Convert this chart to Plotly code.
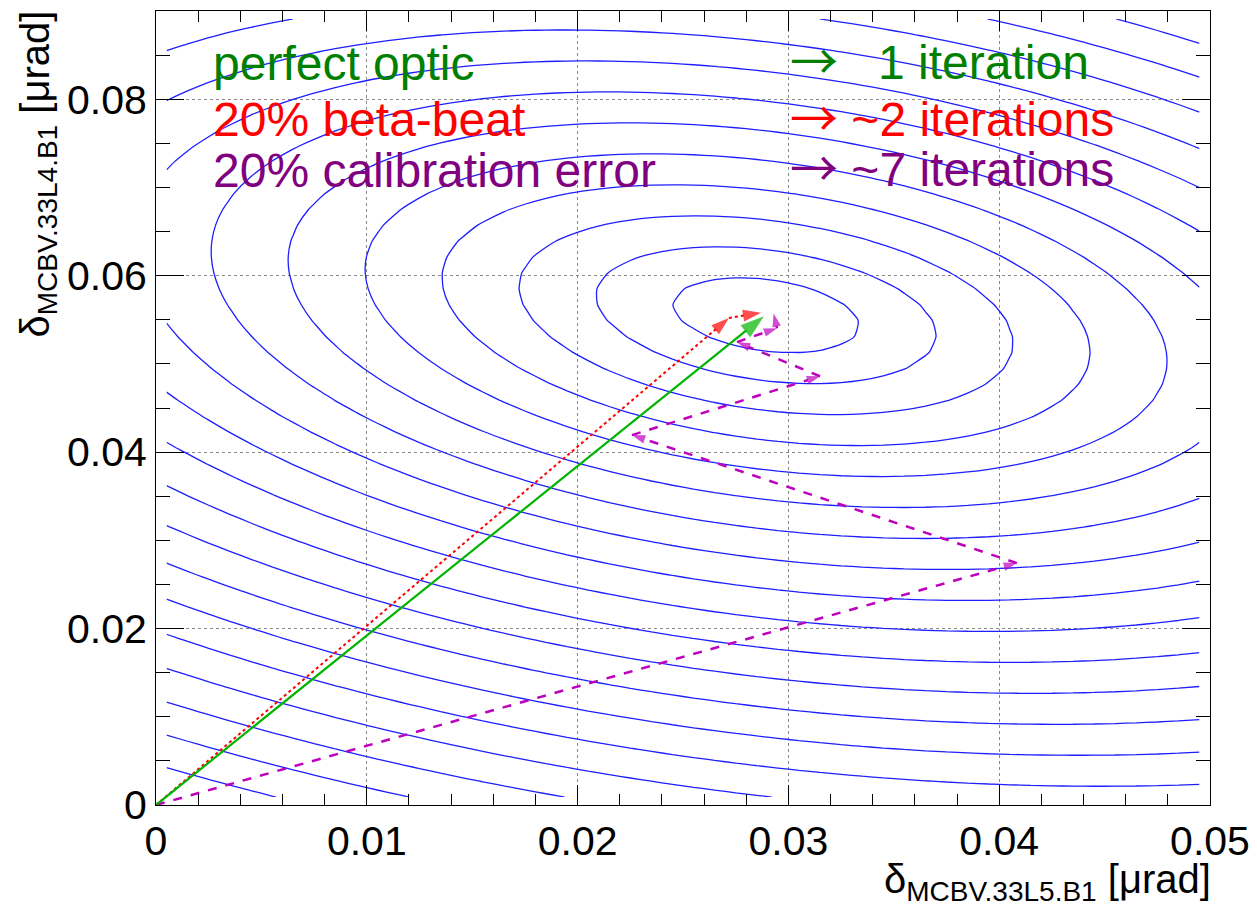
import numpy as np
import plotly.graph_objects as go

# ---- data ----
# contour surface: chi-like norm sqrt(a*u^2 + 2*b*u*v + c*v^2) around minimum
center_x = 0.02894
center_y = 0.05552
coef_a = 0.9246
coef_b = 0.274
coef_c = 1.0
level_step = 0.003365
level_first = 0.003365 * 1.21
level_last = 0.003365 * 30
grid_x = [0.0005 + 0.001 * i for i in range(50)]
grid_y = [0.0009 + 0.0018 * i for i in range(50)]

# correction paths (end points of each iteration)
perfect_x = [0.0, 0.02884]
perfect_y = [0.0, 0.05540]
beta_x = [0.0, 0.02718, 0.02870]
beta_y = [0.0, 0.05520, 0.05580]
calib_x = [0.0, 0.04084, 0.02258, 0.03150, 0.02756, 0.02946, 0.02930]
calib_y = [0.0, 0.02742, 0.04193, 0.04860, 0.05247, 0.05405, 0.05570]

x_ticks = [0, 0.01, 0.02, 0.03, 0.04, 0.05]
x_ticklabels = ["0", "0.01", "0.02", "0.03", "0.04", "0.05"]
y_ticks = [0, 0.02, 0.04, 0.06, 0.08]
y_ticklabels = ["0", "0.02", "0.04", "0.06", "0.08"]

legend_left = ["perfect optic", "20% beta-beat", "20% calibration error"]
legend_right = ["\u00a0\u00a0\u00a01 iteration", "\u00a0~2 iterations", "\u00a0~7 iterations"]
legend_colors = ["#008000", "#ff0000", "#800080"]

# ---- build surface ----
gx = np.array(grid_x)
gy = np.array(grid_y)
U, V = np.meshgrid(gx - center_x, gy - center_y)
Z = np.sqrt(coef_a * U**2 + 2 * coef_b * U * V + coef_c * V**2)

FONT = "Liberation Sans, Arial, sans-serif"

fig = go.Figure()
fig.add_trace(go.Contour(
    x=grid_x, y=grid_y, z=Z,
    contours=dict(coloring="lines", start=level_first, end=level_last, size=level_step),
    colorscale=[[0, "rgb(30,30,255)"], [1, "rgb(30,30,255)"]],
    line=dict(width=1.3, smoothing=0.6),
    showscale=False, hoverinfo="skip",
))

def path_trace(xs, ys, color, dash, width, head):
    sizes = [0] + [head] * (len(xs) - 1)
    return go.Scatter(
        x=xs, y=ys, mode="lines+markers",
        line=dict(color=color, dash=dash, width=width),
        marker=dict(symbol="arrow", size=sizes, color=color, angleref="previous",
                    line=dict(width=0)),
        showlegend=False, hoverinfo="skip",
    )

fig.add_trace(path_trace(calib_x, calib_y, "rgb(190,0,190)", "dash", 2.5, 14))
fig.add_trace(path_trace(beta_x, beta_y, "rgb(255,0,0)", "dot", 2, 19))
fig.add_trace(path_trace(perfect_x, perfect_y, "rgb(0,180,0)", "solid", 2.2, 25))

# plot area in figure pixels: x 148..1202, y 3..797
def px(xw):
    return (xw - 156) / 1054.0

def py(yw):
    return (805 - yw) / 794.0

ARROW = "<span style='font-family:Noto Sans CJK SC'>\u2192</span>"

ann = []
row_y = [63, 120, 170]
for i in range(3):
    ann.append(dict(x=px(212), y=py(row_y[i]), xref="paper", yref="paper", xanchor="left",
                    yanchor="middle", text=legend_left[i], showarrow=False, borderpad=0,
                    font=dict(family=FONT, size=48, color=legend_colors[i])))
    ann.append(dict(x=px(789), y=py(row_y[i] - 5), xref="paper", yref="paper", xanchor="left",
                    yanchor="middle", text=ARROW + legend_right[i], showarrow=False, borderpad=0,
                    font=dict(family=FONT, size=48, color=legend_colors[i])))

ann.append(dict(x=px(38), y=py(9), xref="paper", yref="paper", xanchor="center", yanchor="top",
                text="\u03b4<sub>MCBV.33L4.B1</sub> [\u03bcrad]", textangle=-90, showarrow=False,
                font=dict(family=FONT, size=40, color="black")))
ann.append(dict(x=px(1213), y=py(882), xref="paper", yref="paper", xanchor="right", yanchor="middle",
                text="\u03b4<sub>MCBV.33L5.B1</sub> [\u03bcrad]", showarrow=False,
                font=dict(family=FONT, size=40, color="black")))

axis_common = dict(
    showline=True, linecolor="black", linewidth=1, mirror="allticks",
    ticks="inside", tickcolor="black", tickwidth=1,
    showgrid=True, gridcolor="#888888", griddash="dot", gridwidth=1,
    zeroline=False, tickfont=dict(family=FONT, size=41, color="black"),
)

fig.update_xaxes(range=[0, 0.05], tickvals=x_ticks, ticktext=x_ticklabels, ticklen=20,
                 minor=dict(dtick=0.002, ticklen=11, tickcolor="black", ticks="inside", showgrid=False),
                 **axis_common)
fig.update_yaxes(range=[0, 0.09], tickvals=y_ticks, ticktext=y_ticklabels, ticklen=28,
                 minor=dict(dtick=0.005, ticklen=14, tickcolor="black", ticks="inside", showgrid=False),
                 **axis_common)

fig.update_layout(
    width=1249, height=902,
    margin=dict(l=148, r=47, t=3, b=105),
    paper_bgcolor="white", plot_bgcolor="white",
    annotations=ann, showlegend=False,
)

fig.write_html("out.html")
